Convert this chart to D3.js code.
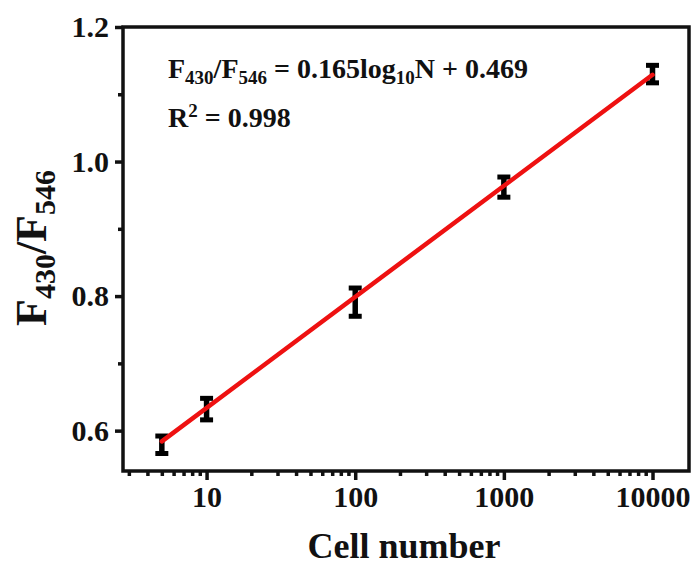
<!DOCTYPE html>
<html>
<head>
<meta charset="utf-8">
<script src="https://cdn.jsdelivr.net/npm/d3@7"></script>
<style>
  body { margin: 0; background: #fff; }
  svg { display: block; }
  text { font-family: "Liberation Serif", "Times New Roman", serif; font-weight: bold; fill: #111; }
</style>
</head>
<body>
<div id="container"></div>
<script>
let w = 696;
let h = 566;

// data
let cells = [5, 10, 100, 1000, 10000];
let ratio = [0.579, 0.632, 0.791, 0.962, 1.130];
let errs = [0.013, 0.016, 0.021, 0.015, 0.013];
let fitX = [5, 10000];
let fitY = [0.584, 1.129];

let xTicks = [10, 100, 1000, 10000];
let xMinor = [3, 4, 5, 6, 7, 8, 9, 20, 30, 40, 50, 60, 70, 80, 90, 200, 300, 400, 500, 600, 700, 800, 900, 2000, 3000, 4000, 5000, 6000, 7000, 8000, 9000];
let yTicks = [0.6, 0.8, 1.0, 1.2];
let yMinor = [0.7, 0.9, 1.1];

let plotL = 123, plotR = 689, plotT = 27, plotB = 471;

let viz = d3.select("#container").append("svg")
  .attr("width", w)
  .attr("height", h)

let x = d3.scaleLog().domain([2.74, 17600]).range([plotL, plotR]);
let y = d3.scaleLinear().domain([0.54, 1.2]).range([plotB, plotT]);

// minor ticks first so major axis draws on top
viz.append("g")
  .attr("transform", "translate(0," + plotB + ")")
  .call(d3.axisBottom(x).tickValues(xMinor).tickSize(5).tickFormat(""))
  .call(g => g.select(".domain").remove())
  .call(g => g.selectAll("line").attr("stroke", "#111").attr("stroke-width", 3.5))

viz.append("g")
  .attr("transform", "translate(" + plotL + ",0)")
  .call(d3.axisLeft(y).tickValues(yMinor).tickSize(5).tickFormat(""))
  .call(g => g.select(".domain").remove())
  .call(g => g.selectAll("line").attr("stroke", "#111").attr("stroke-width", 3.5))

// major axes
let xAxis = viz.append("g")
  .attr("transform", "translate(0," + plotB + ")")
  .call(d3.axisBottom(x).tickValues(xTicks).tickSize(9).tickPadding(6).tickFormat(d3.format("d")))
xAxis.select(".domain").remove()
xAxis.selectAll("line").attr("stroke", "#111").attr("stroke-width", 3.5)
xAxis.selectAll("text").attr("font-size", 30).attr("font-family", null).attr("fill", null)

let yAxis = viz.append("g")
  .attr("transform", "translate(" + plotL + ",0)")
  .call(d3.axisLeft(y).tickValues(yTicks).tickSize(8).tickPadding(6).tickFormat(d3.format(".1f")))
yAxis.select(".domain").remove()
yAxis.selectAll("line").attr("stroke", "#111").attr("stroke-width", 3.5)
yAxis.selectAll("text").attr("font-size", 30).attr("font-family", null).attr("fill", null)

// frame
viz.append("rect")
  .attr("x", plotL)
  .attr("y", plotT)
  .attr("width", plotR - plotL)
  .attr("height", plotB - plotT)
  .attr("fill", "none")
  .attr("stroke", "#111")
  .attr("stroke-width", 3.5)

// error bars
let points = cells.map(function (c, i) {
  return { n: c, v: ratio[i], e: errs[i] }
})

let bars = viz.selectAll(".err").data(points).enter()
  .append("g")
  .attr("class", "err")

bars.append("line")
  .attr("x1", d => x(d.n)).attr("x2", d => x(d.n))
  .attr("y1", d => y(d.v - d.e)).attr("y2", d => y(d.v + d.e))
  .attr("stroke", "#000").attr("stroke-width", 5.5)

bars.selectAll(".cap").data(d => [[d.n, d.v - d.e], [d.n, d.v + d.e]]).enter()
  .append("line")
  .attr("x1", d => x(d[0]) - 6.5).attr("x2", d => x(d[0]) + 6.5)
  .attr("y1", d => y(d[1])).attr("y2", d => y(d[1]))
  .attr("stroke", "#000").attr("stroke-width", 5)

// fit line
let fit = fitX.map((v, i) => [v, fitY[i]])
viz.append("path")
  .datum(fit)
  .attr("d", d3.line().x(d => x(d[0])).y(d => y(d[1])))
  .attr("fill", "none")
  .attr("stroke", "#ee1111")
  .attr("stroke-width", 4.5)
  .attr("stroke-linecap", "round")

// equation
let eq = viz.append("text").attr("x", 168).attr("y", 78).attr("font-size", 28)
eq.append("tspan").text("F")
eq.append("tspan").attr("font-size", 19).attr("dy", 6).text("430")
eq.append("tspan").attr("dy", -6).text("/F")
eq.append("tspan").attr("font-size", 19).attr("dy", 6).text("546")
eq.append("tspan").attr("dy", -6).text(" = 0.165log")
eq.append("tspan").attr("font-size", 19).attr("dy", 6).text("10")
eq.append("tspan").attr("dy", -6).text("N + 0.469")

let r2 = viz.append("text").attr("x", 168).attr("y", 127).attr("font-size", 28)
r2.append("tspan").text("R")
r2.append("tspan").attr("font-size", 19).attr("dy", -10).text("2")
r2.append("tspan").attr("dy", 10).text(" = 0.998")

// axis titles
viz.append("text")
  .attr("x", (plotL + plotR) / 2 - 2)
  .attr("y", 558)
  .attr("text-anchor", "middle")
  .attr("font-size", 36)
  .text("Cell number")

let yt = viz.append("text")
  .attr("transform", "translate(46,248) rotate(-90)")
  .attr("text-anchor", "middle")
  .attr("font-size", 44)
yt.append("tspan").text("F")
yt.append("tspan").attr("font-size", 30).attr("dy", 9).text("430")
yt.append("tspan").attr("dy", -9).text("/F")
yt.append("tspan").attr("font-size", 30).attr("dy", 9).text("546")
</script>
</body>
</html>
